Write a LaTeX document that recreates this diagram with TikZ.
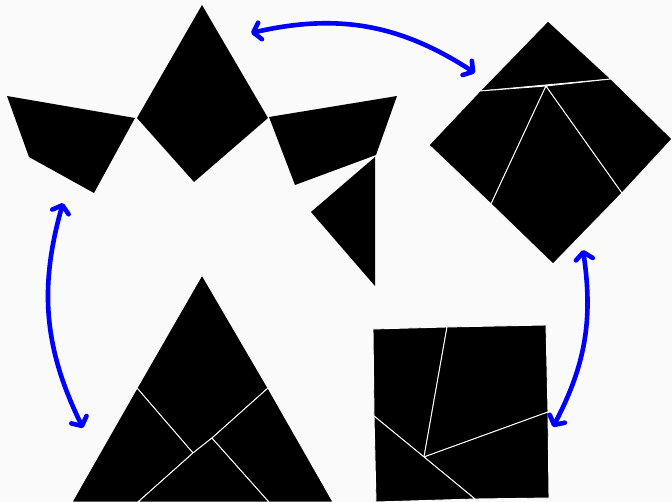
\documentclass[tikz,border=0pt]{standalone}
\usepackage{tikz}
\usetikzlibrary{arrows.meta}
\definecolor{paper}{RGB}{250, 250, 250}
\definecolor{tradeblue}{RGB}{0, 0, 255}

\tikzset{
    piece/.style={fill=black, draw=white, line width=0.9pt, line join=miter},
    swaparrow/.style={<->, line width=4.6pt, draw=tradeblue, line cap=round}
}

\begin{document}
\begin{tikzpicture}[x=1pt, y=-1pt, >={Straight Barb[length=7pt, width=17pt, round]}]
    \fill[paper] (0,0) rectangle (672,502);
    \useasboundingbox (0,0) rectangle (672,502);
    % star of four pieces
    \fill (202,5) -- (268,118) -- (194,182) -- (137,118) -- cycle;
    \fill (7,96) -- (135,118) -- (94,193) -- (29,157) -- cycle;
    \fill (269,117) -- (397,96) -- (376,155) -- (295,185) -- cycle;
    \fill (375,157) -- (311,212) -- (375,286) -- cycle;
    % tilted square (diamond)
    \draw[piece] (548,21) -- (611,79) -- (480,91) -- cycle;
    \draw[piece] (480,91) -- (546,86) -- (491,204) -- (429,145) -- cycle;
    \draw[piece] (546,86) -- (622,193) -- (553,264) -- (491,204) -- cycle;
    \draw[piece] (546,86) -- (611,79) -- (672,139) -- (622,193) -- cycle;
    % triangle
    \draw[piece] (202,275) -- (268,388) -- (212,438) -- (193,453) -- (137,388) -- cycle;
    \draw[piece] (137,388) -- (193,453) -- (138,502) -- (72,502) -- cycle;
    \draw[piece] (193,453) -- (212,438) -- (269,502) -- (138,502) -- cycle;
    \draw[piece] (268,388) -- (333,502) -- (269,502) -- (212,438) -- cycle;
    % square
    \draw[piece] (373,329) -- (447,327) -- (424,457) -- (374,416) -- cycle;
    \draw[piece] (447,327) -- (546,325) -- (548,412) -- (424,457) -- cycle;
    \draw[piece] (424,457) -- (548,412) -- (549,498) -- (475,499) -- cycle;
    \draw[piece] (374,416) -- (424,457) -- (475,499) -- (376,502) -- cycle;
    % arrow ends
    \coordinate (star-r) at (251,33);
    \coordinate (diam-l) at (475,73);
    \coordinate (star-b) at (63,203);
    \coordinate (tri-l) at (83,428);
    \coordinate (diam-b) at (583,250);
    \coordinate (sq-r) at (553,427);
    \draw[swaparrow] (star-r) to[bend left=23] (diam-l);
    \draw[swaparrow] (star-b) to[bend right=21] (tri-l);
    \draw[swaparrow] (diam-b) to[bend left=18] (sq-r);
\end{tikzpicture}
\end{document}
